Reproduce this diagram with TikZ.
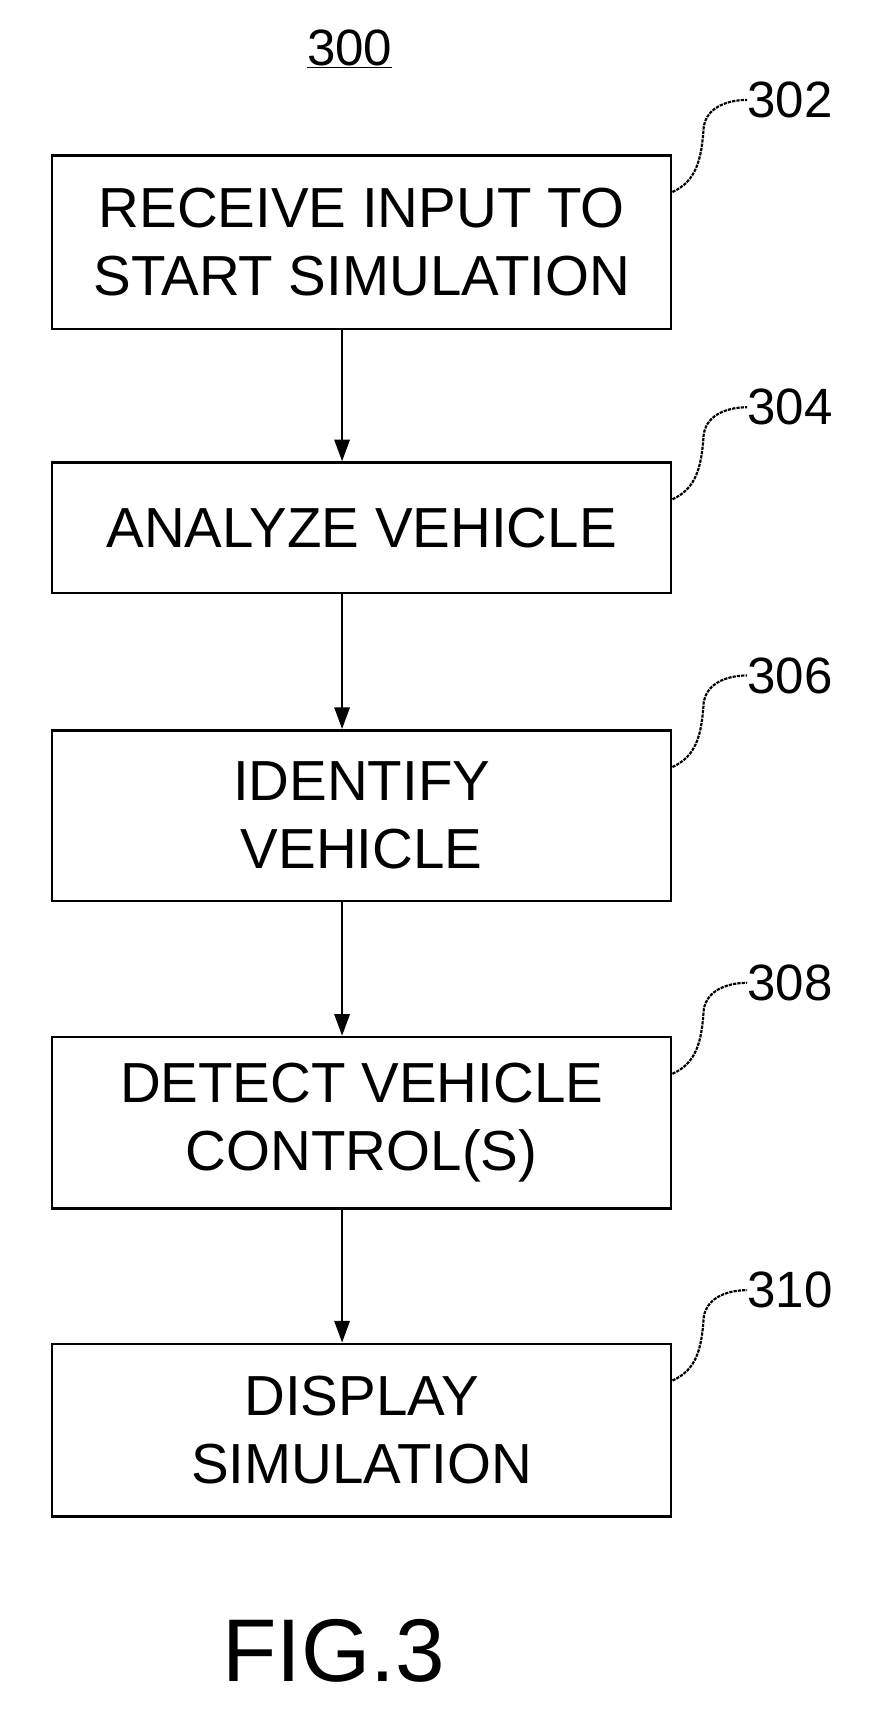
\documentclass[tikz,border=0pt]{standalone}
\usepackage{fontspec}
\setmainfont{Liberation Sans}
\usetikzlibrary{positioning}
\usetikzlibrary{arrows.meta}
\tikzset{
	stage/.style={draw, line width=2.4pt, minimum width=570pt, align=center, font=\fontsize{52}{63}\selectfont, inner sep=0pt},
	flow/.style={line width=2.4pt, -{Triangle[length=20pt,width=14pt]}},
	leader/.style={line width=2pt, dash pattern=on 3pt off 1pt},
	ref/.style={font=\fontsize{47}{47}\selectfont, anchor=west, inner sep=0pt}
}
\begin{document}
\begin{tikzpicture}[x=1pt,y=-1pt]
  \useasboundingbox (0,0) rectangle (805,1582);

	\node[font=\fontsize{47}{47}\selectfont] (Title) at (322,45) {\underline{300}};

	\node[stage, minimum height=160pt] (Receive) at (333,223) {RECEIVE INPUT TO\\START SIMULATION};
	\node[stage, minimum height=120pt] (Analyze) at (333,486) {ANALYZE VEHICLE};
	\node[stage, minimum height=157pt] (Identify) at (333,751) {IDENTIFY\\VEHICLE};
	\node[stage, minimum height=158pt] (Detect) at (333,1034) {DETECT VEHICLE\\CONTROL(S)};
	\node[stage, minimum height=159pt] (Display) at (333,1317) {DISPLAY\\SIMULATION};

	\draw [flow] ([xshift=-18pt]Receive.south) to ([xshift=-18pt]Analyze.north);
	\draw [flow] ([xshift=-18pt]Analyze.south) to ([xshift=-18pt]Identify.north);
	\draw [flow] ([xshift=-18pt]Identify.south) to ([xshift=-18pt]Detect.north);
	\draw [flow] ([xshift=-18pt]Detect.south) to ([xshift=-18pt]Display.north);

	% reference numerals
	\foreach \blk/\num/\yy in {Receive/302/92, Analyze/304/375, Identify/306/622, Detect/308/905, Display/310/1188}{
		\node[ref] (Ref\num) at (688,\yy) {\num};
		\draw [leader] ([yshift=-35pt]\blk.north east) .. controls +(22,-10) and +(-2,30) .. (648,{\yy+25}) .. controls +(3,-20) and +(-15,0) .. (Ref\num.west);
	}

	\node[font=\fontsize{82}{82}\selectfont] (Fig) at (307,1520) {FIG.3};
\end{tikzpicture}
\end{document}
